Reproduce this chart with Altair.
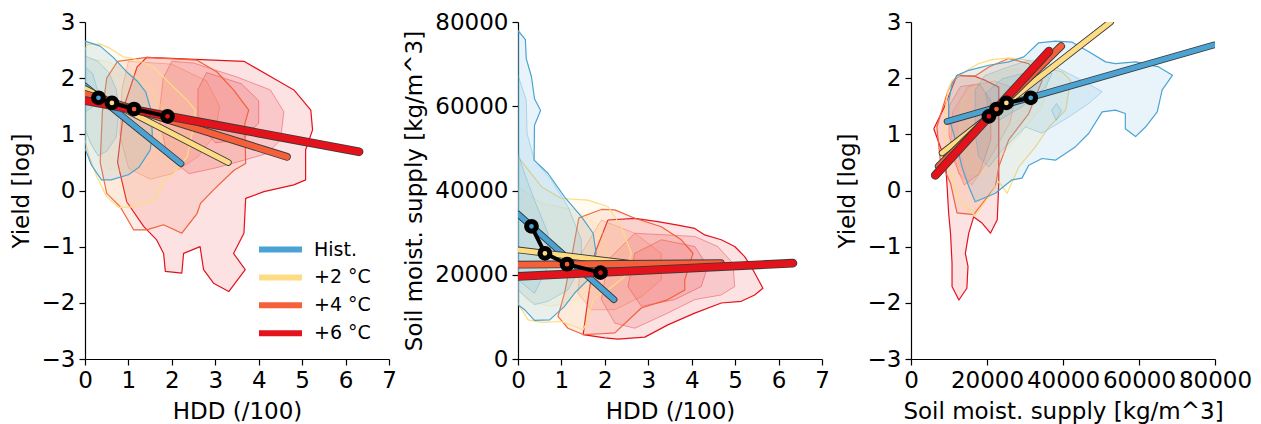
import altair as alt
import pandas as pd

FONT = "DejaVu Sans"
SCEN = ["Hist.", "+2 °C", "+4 °C", "+6 °C"]
COLORS = ["#4ba3d3", "#fddc84", "#f5603a", "#e4121b"]
LINE_W = [5, 5, 6, 7]

# scenario means (black connected markers)
HDD_MEAN = [0.31, 0.62, 1.13, 1.90]
YIELD_MEAN = [1.65, 1.56, 1.45, 1.32]
SOIL_MEAN = [31500, 25100, 22500, 20500]

# regression lines: start / end per scenario
P1_X0 = [0, 0, 0, 0]
P1_X1 = [2.21, 3.30, 4.65, 6.31]
P1_Y0 = [1.86, 1.81, 1.72, 1.60]
P1_Y1 = [0.48, 0.50, 0.60, 0.69]

P2_X0 = [0, 0, 0, 0]
P2_X1 = [2.21, 3.30, 4.67, 6.33]
P2_Y0 = [34400, 25900, 22400, 19600]
P2_Y1 = [14100, 21800, 22750, 22750]

P3_X0 = [9500, 8200, 7300, 6400]
P3_X1 = [79700, 52500, 39500, 36300]
P3_Y0 = [1.23, 0.67, 0.43, 0.27]
P3_Y1 = [2.59, 3.00, 2.57, 2.48]

# contour polygons (outer level first), HDD vs yield
P1_HIST = [
    [(0, 2.66), (0.35, 2.57), (0.65, 2.37), (0.95, 2.12), (1.2, 1.95), (1.4, 1.75), (1.52, 1.43), (1.55, 1.0),
     (1.5, 0.72), (1.25, 0.42), (1.0, 0.28), (0.6, 0.19), (0.38, 0.19), (0.15, 0.45), (0, 0.75)],
    [(0, 2.4), (0.3, 2.3), (0.55, 2.1), (0.72, 1.8), (0.78, 1.4), (0.72, 0.95), (0.5, 0.7), (0.3, 0.62),
     (0.12, 0.85), (0, 1.1)],
    [(0, 2.2), (0.18, 2.08), (0.28, 1.8), (0.2, 1.5), (0, 1.4)],
]
P1_P2 = [
    [(0.05, 2.6), (0.35, 2.61), (0.58, 2.53), (0.88, 2.38), (1.12, 2.35), (1.58, 2.2), (1.96, 1.9), (2.35, 1.61),
     (2.54, 1.43), (2.5, 1.13), (2.35, 0.6), (2.04, 0.3), (1.81, 0.16), (1.62, -0.17), (1.12, -0.29),
     (0.77, -0.3), (0.5, -0.11), (0.27, 0.25), (0.1, 0.6), (0, 0.9), (0, 2.5)],
    [(0, 2.35), (0.5, 2.3), (1.0, 2.12), (1.5, 1.85), (1.8, 1.45), (1.78, 0.95), (1.5, 0.55), (1.05, 0.32),
     (0.55, 0.38), (0.22, 0.7), (0, 1.1)],
]
P1_P4 = [
    [(0.75, 2.3), (1.42, 2.37), (2.58, 2.32), (3.04, 2.11), (3.42, 1.79), (3.77, 1.43), (3.68, 1.19),
     (3.7, 0.48), (3.43, 0.36), (2.96, 0.01), (2.66, -0.23), (2.58, -0.41), (2.23, -0.76), (1.81, -0.61),
     (1.42, -0.7), (1.12, -0.7), (0.81, -0.29), (0.5, -0.05), (0.35, 0.5), (0.4, 1.4), (0.5, 2.0)],
    [(1.0, 2.3), (2.0, 2.25), (2.8, 1.95), (3.1, 1.5), (3.0, 1.0), (2.6, 0.6), (2.0, 0.3), (1.5, 0.2),
     (1.0, 0.4), (0.8, 1.0), (0.85, 1.8)],
]
P1_P6 = [
    [(1.42, 2.37), (3.66, 2.3), (4.43, 1.96), (4.81, 1.79), (5.2, 1.43), (5.24, 1.08), (5.08, 0.72),
     (5.08, 0.19), (4.81, 0.1), (4.12, -0.02), (3.7, -0.14), (3.66, -0.76),
     (3.42, -1.12), (3.69, -1.41), (3.31, -1.8), (2.96, -1.65), (2.73, -1.41), (2.65, -1.0), (2.27, -1.12),
     (2.23, -1.47), (1.85, -1.44), (1.81, -1.12), (1.65, -0.88), (1.35, -0.64), (0.96, -0.2), (0.75, 0.5),
     (0.9, 1.5), (1.2, 2.2)],
    [(2.0, 2.3), (2.5, 2.27), (3.5, 2.02), (4.27, 1.79), (4.58, 1.4), (4.5, 0.9), (4.2, 0.66), (3.66, 0.54),
     (3.0, 0.4), (2.4, 0.3), (1.9, 0.6), (1.7, 1.3), (1.8, 2.0)],
    [(2.8, 2.1), (3.6, 1.9), (4.0, 1.6), (4.0, 1.2), (3.6, 0.9), (3.0, 0.85), (2.6, 1.2), (2.6, 1.8)],
]

# HDD vs soil moisture supply
P2_HIST = [
    [(0, 78000), (0.17, 75800), (0.19, 71300), (0.31, 67000), (0.38, 61800), (0.52, 59000), (0.38, 55500),
     (0.37, 47200), (0.69, 44100), (1.07, 38500), (1.46, 33800), (1.73, 29850), (1.8, 25100), (1.61, 18800),
     (1.3, 15600), (1.07, 12500), (0.73, 9300), (0.38, 9160), (0.15, 11700), (0, 12900)],
    [(0, 67400), (0.19, 61400), (0.21, 53500), (0.38, 47200), (0.77, 42500), (1.15, 36200), (1.46, 28300),
     (1.46, 22000), (1.15, 16400), (0.69, 13700), (0.38, 12900), (0, 16400)],
    [(0, 48800), (0.15, 44100), (0.38, 37700), (0.69, 29850), (0.69, 22000), (0.38, 15600), (0, 18800)],
]
P2_P2 = [
    [(0, 48000), (0.54, 40900), (1.0, 38100), (1.61, 37700), (2.07, 36200), (2.38, 31400), (2.61, 25100),
     (2.46, 19600), (2.07, 16400), (1.73, 14100), (1.61, 9300), (1.5, 6950), (1.0, 8900), (0.54, 8700),
     (0.23, 9300), (0, 13300)],
    [(0, 40900), (0.54, 37000), (1.3, 35400), (1.92, 31400), (2.07, 25100), (1.84, 18000), (1.38, 14100),
     (0.77, 12500), (0.23, 13700), (0, 16400)],
]
P2_P4 = [
    [(1.4, 33500), (1.92, 35500), (2.23, 35400), (2.69, 33400), (3.3, 31400), (3.76, 28300), (4.03, 25100),
     (3.84, 18800), (3.84, 16400), (3.45, 14100), (2.84, 12100), (2.23, 6200), (1.92, 6000), (1.5, 5800),
     (1.15, 7300), (0.92, 10100), (1.07, 15600), (1.25, 25000)],
    [(1.92, 33000), (2.69, 29850), (3.3, 25100), (3.3, 18800), (2.84, 14800), (2.23, 11700), (1.69, 11700),
     (1.38, 15600), (1.46, 25100)],
]
P2_P6 = [
    [(2.07, 33000), (2.69, 33400), (3.22, 32600), (3.68, 31800), (4.07, 31000), (4.3, 29450), (4.68, 28300),
     (4.99, 26700), (5.22, 24300), (5.41, 21200), (5.64, 16800), (5.45, 15200), (5.14, 13700), (4.68, 13300),
     (4.07, 10900), (3.45, 8100), (2.92, 5200), (2.3, 4700), (2.0, 5000), (1.5, 5800), (1.61, 14100),
     (1.77, 25100)],
    [(2.69, 29850), (4.07, 29100), (4.6, 26700), (4.95, 22700), (4.99, 17200), (4.68, 15200), (4.07, 14100),
     (3.45, 10900), (2.69, 7300), (2.23, 8500), (1.92, 14100), (2.07, 23500)],
    [(3.3, 28300), (4.07, 26700), (4.37, 22000), (4.22, 17200), (3.61, 14100), (2.84, 12500), (2.53, 17200),
     (2.69, 25100)],
]

# soil moisture supply vs yield
P3_HIST = [
    [(9900, 1.58), (10800, 1.9), (12100, 2.05), (15200, 2.14), (20500, 2.23), (25700, 2.29), (29700, 2.38),
     (33600, 2.63), (38000, 2.66), (42400, 2.64), (46800, 2.47), (51200, 2.29), (53800, 2.26), (59100, 2.29),
     (65200, 2.2), (68800, 2.05), (66100, 1.79), (64800, 1.4), (61700, 1.13), (59100, 0.96), (56400, 1.1),
     (56400, 1.37), (53800, 1.43), (50300, 1.4), (46800, 1.02), (43300, 0.78), (38000, 0.54), (34500, 0.57),
     (31000, 0.45), (29200, 0.22), (26600, 0.19), (22200, -0.05), (16900, -0.2), (15200, 0.07), (13400, 0.42),
     (11700, 0.9), (9900, 1.31)],
    [(16900, 1.79), (19500, 2.05), (25700, 2.2), (31000, 2.32), (35400, 2.29), (39800, 2.14), (45000, 1.96),
     (50300, 1.76), (46800, 1.55), (41500, 1.31), (34500, 1.02), (30100, 1.13), (24000, 0.72), (20500, 0.42),
     (17800, 0.6), (16900, 1.02)],
    [(37000, 1.43), (38300, 1.55), (39600, 1.42), (38200, 1.25)],
    [(19600, 1.73), (24000, 1.99), (31000, 2.11), (37100, 2.08), (35400, 1.84), (29200, 1.49), (23100, 1.25),
     (20500, 1.43)],
]
P3_P2 = [
    [(9750, 1.79), (10800, 1.96), (12600, 2.05), (17800, 2.26), (21300, 2.33), (25700, 2.36), (30000, 2.33),
     (34500, 2.2), (39800, 2.11), (42000, 1.96), (40700, 1.43), (36300, 1.13), (32800, 0.78), (28400, 0.42),
     (25300, -0.05), (23100, 0.16), (20500, -0.11), (16900, -0.45), (12600, -0.17), (9900, 0.42),
     (8600, 1.02), (9100, 1.49)],
    [(13400, 1.6), (18700, 2.02), (27500, 2.17), (36300, 2.02), (34500, 1.49), (27500, 0.9), (19600, 0.3),
     (15200, 0.3), (12600, 0.9)],
]
P3_P4 = [
    [(9500, 1.73), (10500, 1.9), (12600, 2.04), (16900, 2.04), (20500, 2.2), (25700, 2.35), (31000, 2.26),
     (34500, 1.96), (31000, 1.37), (25700, 0.9), (23100, 0.42), (22200, 0.07), (16500, -0.43), (12100, -0.4),
     (10400, 0.13), (7700, 0.54), (6800, 1.13)],
    [(11000, 1.4), (15000, 1.85), (22000, 1.95), (28000, 1.8), (26000, 1.2), (21000, 0.6), (16000, 0.1),
     (12500, 0.3), (10500, 0.9)],
]
P3_P6 = [
    [(6000, 1.1), (8600, 1.46), (12100, 2.05), (13000, 2.05), (16900, 2.03), (19600, 1.96),
     (23100, 1.84), (23100, 1.02), (23100, 0.13), (22700, -0.52), (20900, -0.76), (18700, -0.58),
     (16500, -0.47), (15200, -0.76), (14300, -1.12), (15000, -1.35), (14700, -1.74), (12600, -1.95),
     (10800, -1.71), (10800, -1.3), (10400, -0.76), (9900, -0.4), (9500, 0.07), (9050, 0.54), (7700, 0.78)],
    [(10000, 1.5), (13000, 1.85), (18000, 1.9), (21000, 1.6), (21000, 0.9), (18000, 0.3), (14000, 0.1),
     (11500, 0.5), (10000, 1.0)],
]


def axis(title, values, fmt=None):
    kw = dict(title=title, values=values, grid=False, labelFontSize=23, titleFontSize=23,
              labelFont=FONT, titleFont=FONT, titleFontWeight="normal", labelColor="black",
              titleColor="black", domainColor="black", tickColor="black", tickSize=6,
              labelPadding=4, titlePadding=8, domainWidth=1.2, tickWidth=1.2, labelFlush=False)
    if fmt:
        kw["format"] = fmt
    return alt.Axis(**kw)


def poly_df(levels, col):
    rows = []
    for li, pts in enumerate(levels):
        closed = list(pts) + [pts[0]]
        for k, (x, y) in enumerate(closed):
            rows.append(dict(x=x, y=y, pid=f"L{li}", ord=k, col=col,
                             sop=1.0 if li == 0 else 0.4, sw=1.2 if li == 0 else 0.9))
    return pd.DataFrame(rows)


def panel(polys, x0, x1, y0, y1, mx, my, xdom, ydom, xax, yax, legend):
    xs = alt.Scale(domain=xdom, nice=False, zero=False)
    ys = alt.Scale(domain=ydom, nice=False, zero=False)
    X = alt.X("x:Q", scale=xs, axis=xax)
    Y = alt.Y("y:Q", scale=ys, axis=yax)
    layers = []
    # warmest scenario drawn first, historical on top
    for i in [3, 2, 1, 0]:
        d = poly_df(polys[i], COLORS[i])
        layers.append(alt.Chart(d).mark_line(fillOpacity=0.12, clip=True, strokeJoin="round").encode(
            x=X, y=Y, detail="pid:N", order="ord:Q",
            fill=alt.Fill("col:N", scale=None),
            stroke=alt.Stroke("col:N", scale=None),
            strokeOpacity=alt.StrokeOpacity("sop:Q", scale=None),
            strokeWidth=alt.StrokeWidth("sw:Q", scale=None),
        ))
    cscale = alt.Scale(domain=SCEN, range=COLORS)
    for i in range(4):
        d = pd.DataFrame(dict(x=[x0[i], x1[i]], y=[y0[i], y1[i]], scen=[SCEN[i]] * 2,
                              w=[LINE_W[i]] * 2, wo=[LINE_W[i] + 1.8] * 2))
        layers.append(alt.Chart(d).mark_line(color="#3a3a3a", strokeCap="round", clip=True).encode(
            x=X, y=Y, strokeWidth=alt.StrokeWidth("wo:Q", scale=None)))
        layers.append(alt.Chart(d).mark_line(strokeCap="round", clip=True).encode(
            x=X, y=Y, color=alt.Color("scen:N", scale=cscale, legend=legend),
            strokeWidth=alt.StrokeWidth("w:Q", scale=None)))
    m = pd.DataFrame(dict(x=mx, y=my, k=list(range(4)), col=COLORS))
    layers.append(alt.Chart(m).mark_line(color="black", strokeWidth=4).encode(x=X, y=Y, order="k:Q"))
    layers.append(alt.Chart(m).mark_circle(size=95, opacity=1, stroke="black", strokeWidth=5).encode(
        x=X, y=Y, fill=alt.Fill("col:N", scale=None)))
    return alt.layer(*layers).properties(width=304, height=337)


# long horizontal stroke symbol: path scaled by sqrt(symbolSize)/2
leg = alt.Legend(title=None, orient="none", legendX=186, legendY=218, symbolType="M-4.3,0H4.3",
                 symbolSize=100, symbolStrokeWidth=6, symbolOpacity=1, labelFontSize=19,
                 labelFont=FONT, labelColor="black", rowPadding=2.9, labelOffset=24, padding=0)

hdd_vals = [0, 1, 2, 3, 4, 5, 6, 7]
yld_vals = [-3, -2, -1, 0, 1, 2, 3]
soil_vals = [0, 20000, 40000, 60000, 80000]

p1 = panel([P1_HIST, P1_P2, P1_P4, P1_P6], P1_X0, P1_X1, P1_Y0, P1_Y1, HDD_MEAN, YIELD_MEAN,
           [0, 7], [-3, 3], axis("HDD (/100)", hdd_vals), axis("Yield [log]", yld_vals), leg)
p2 = panel([P2_HIST, P2_P2, P2_P4, P2_P6], P2_X0, P2_X1, P2_Y0, P2_Y1, HDD_MEAN, SOIL_MEAN,
           [0, 7], [0, 80000], axis("HDD (/100)", hdd_vals),
           axis("Soil moist. supply [kg/m^3]", soil_vals, "d"), None)
p3 = panel([P3_HIST, P3_P2, P3_P4, P3_P6], P3_X0, P3_X1, P3_Y0, P3_Y1, SOIL_MEAN, YIELD_MEAN,
           [0, 80000], [-3, 3], axis("Soil moist. supply [kg/m^3]", soil_vals, "d"),
           axis("Yield [log]", yld_vals), None)

chart = alt.hconcat(p1, p2, p3, spacing=6).resolve_scale(color="independent").configure_view(
    stroke=None).properties(padding={"left": 10, "top": 11, "right": 5, "bottom": 5})

chart.save("out.html", embed_options={"renderer": "svg", "actions": False})
